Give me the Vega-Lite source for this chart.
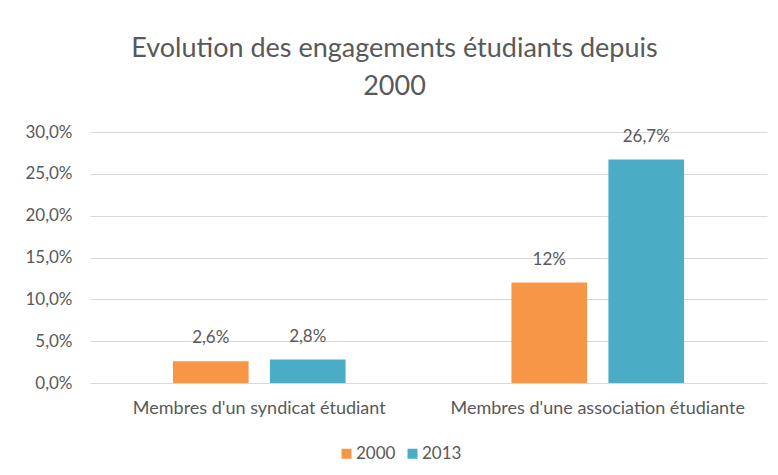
{
  "$schema": "https://vega.github.io/schema/vega-lite/v6.json",
  "width": 677,
  "height": 251,
  "autosize": {"type": "none"},
  "padding": {"left": 90, "top": 132, "right": 11, "bottom": 92},
  "background": "white",
  "config": {"view": {"stroke": null}},
  "title": {
    "text": ["Evolution des engagements étudiants depuis", "2000"],
    "font": "Lato",
    "fontSize": 27,
    "fontWeight": "normal",
    "color": "#595959",
    "lineHeight": 38,
    "anchor": "middle",
    "dx": -34,
    "offset": 22
  },
  "data": {
    "values": [
      {"categorie": "Membres d'un syndicat étudiant", "annee": "2000", "valeur": 0.026, "etiquette": "2,6%"},
      {"categorie": "Membres d'un syndicat étudiant", "annee": "2013", "valeur": 0.028, "etiquette": "2,8%"},
      {"categorie": "Membres d'une association étudiante", "annee": "2000", "valeur": 0.12, "etiquette": "12%"},
      {"categorie": "Membres d'une association étudiante", "annee": "2013", "valeur": 0.267, "etiquette": "26,7%"}
    ]
  },
  "encoding": {
    "x": {
      "field": "categorie", "type": "nominal", "sort": null,
      "scale": {"paddingInner": 0.49, "paddingOuter": 0.245},
      "axis": {"title": null, "labelAngle": 0, "ticks": false, "domain": false, "labelPadding": 16, "labelFont": "Lato", "labelFontSize": 18, "labelColor": "#595959", "labelLimit": 400}
    },
    "xOffset": {"field": "annee", "type": "nominal", "scale": {"paddingInner": 0.22, "paddingOuter": 0}},
    "y": {
      "field": "valeur", "type": "quantitative",
      "scale": {"domain": [0, 0.3], "nice": false},
      "axis": {"title": null, "values": [0, 0.05, 0.1, 0.15, 0.2, 0.25, 0.3], "labelOverlap": false, "labelExpr": "replace(format(datum.value, '.1%'), '.', ',')", "ticks": false, "domain": false, "labelPadding": 18, "labelFont": "Lato", "labelFontSize": 17, "labelColor": "#595959", "gridColor": "#d9d9d9", "gridWidth": 1}
    }
  },
  "layer": [
    {
      "mark": {"type": "bar"},
      "encoding": {
        "color": {
          "field": "annee", "type": "nominal",
          "scale": {"domain": ["2000", "2013"], "range": ["#F79646", "#4BACC6"]},
          "legend": {"title": null, "orient": "none", "legendX": 248, "legendY": 313, "direction": "horizontal", "symbolType": "square", "symbolSize": 100, "symbolStrokeWidth": 0, "labelFont": "Lato", "labelFontSize": 17, "labelColor": "#595959", "labelOffset": 1, "columnPadding": 8}
        }
      }
    },
    {
      "mark": {"type": "text", "dy": -14, "font": "Lato", "fontSize": 17, "color": "#595959", "baseline": "bottom"},
      "encoding": {"text": {"field": "etiquette"}}
    }
  ]
}
